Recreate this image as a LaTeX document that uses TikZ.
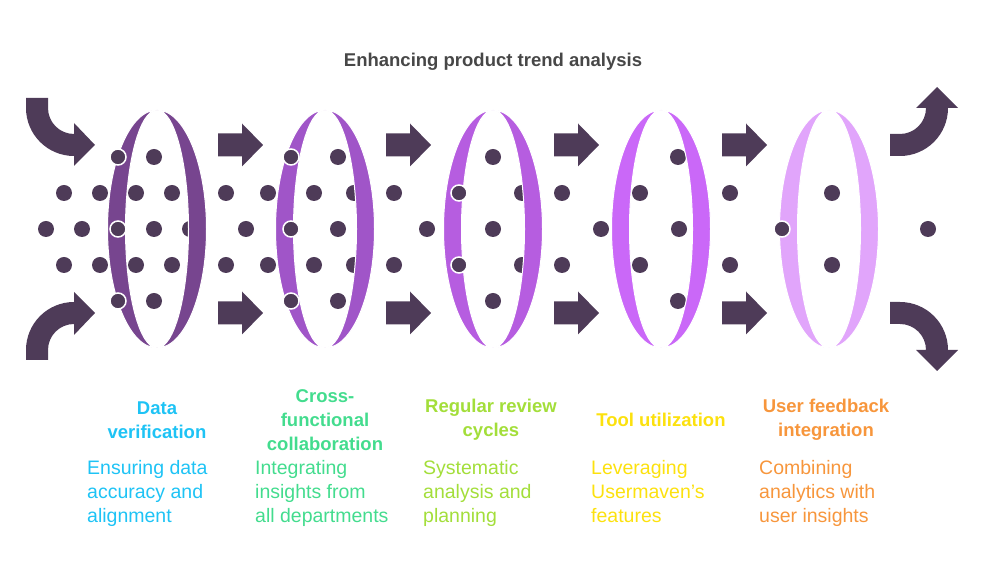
\documentclass[tikz,border=0pt]{standalone}
\usepackage{fontspec}
\setmainfont{Liberation Sans}
\usepackage{tikz}
\usetikzlibrary{positioning}
\definecolor{titlegray}{HTML}{474747}
\definecolor{plum}{HTML}{4E3B58}
\definecolor{ringa}{HTML}{77458F}
\definecolor{ringb}{HTML}{A055C8}
\definecolor{ringc}{HTML}{B65DE0}
\definecolor{ringd}{HTML}{CA68F8}
\definecolor{ringe}{HTML}{E1A5FB}
\definecolor{cblue}{HTML}{1EC3F5}
\definecolor{cgreen}{HTML}{43DC8E}
\definecolor{clime}{HTML}{A3DE3A}
\definecolor{cyellow}{HTML}{FCE10E}
\definecolor{corange}{HTML}{F7963C}
\tikzset{
  spot/.style={fill=plum},
  frontspot/.style={fill=plum,draw=white,line width=1.5pt},
  band/.style={draw=white,line width=1pt},
  heading/.style={font=\fontsize{18.5}{24}\selectfont\bfseries,
    align=center,inner sep=0,anchor=center},
  body/.style={font=\fontsize{19.5}{24}\selectfont,
    align=left,inner sep=0,anchor=north west},
}

\begin{document}
\begin{tikzpicture}[x=1pt,y=1pt]
\useasboundingbox (0,0) rectangle (986,578);
\node (title) at (493,516) [font=\fontsize{18.5}{22}\selectfont\bfseries,text=titlegray] {Enhancing product trend analysis};

% dots behind the rings
\foreach \x in {154,338,493,678} {
  \fill[spot] (\x,421) circle (8); \fill[spot] (\x,277) circle (8);}
\foreach \x in {64,100,136,172,226,268,314,354,394,522,562,640,730,832} {
  \fill[spot] (\x,385) circle (8); \fill[spot] (\x,313) circle (8);}
\foreach \x in {46,82,154,190,246,338,427,493,601,679,928}
  \fill[spot] (\x,349) circle (8);

% rings
\foreach \cx/\col in {157/ringa,325/ringb,493/ringc,661/ringd,829/ringe} {
  \filldraw[band,fill=\col] (\cx,468) arc[start angle=90,end angle=270,x radius=49.5,y radius=119]
    arc[start angle=270,end angle=90,x radius=31.5,y radius=119] -- cycle;
  \filldraw[band,fill=\col] (\cx,468) arc[start angle=90,end angle=-90,x radius=49.5,y radius=119]
    arc[start angle=-90,end angle=90,x radius=31.5,y radius=119] -- cycle;
}

% dots in front
\foreach \x in {118,291} {
  \filldraw[frontspot] (\x,421) circle (8); \filldraw[frontspot] (\x,277) circle (8);}
\filldraw[frontspot] (459,385) circle (8);
\filldraw[frontspot] (459,313) circle (8);
\foreach \x in {118,291,782}
  \filldraw[frontspot] (\x,349) circle (8);

% straight arrows
\foreach \x in {218,386,554,722}
  \foreach \c in {433,265}
    \fill[plum] (\x,\c-11.5) -- ++(24,0) -- ++(0,-10) -- (\x+45,\c) -- (\x+24,\c+21.5)
      -- ++(0,-10) -- (\x,\c+11.5) -- cycle;

% bent arrows in and out
\fill[plum] (26,480) -- (26,470) arc[start angle=180,end angle=270,radius=48]
  -- (74,412) -- (95,433) -- (74,455) -- (74,444) arc[start angle=270,end angle=180,radius=26]
  -- (48,480) -- cycle;
\fill[plum] (26,218) -- (26,228) arc[start angle=180,end angle=90,radius=48]
  -- (74,286) -- (95,265) -- (74,243) -- (74,254) arc[start angle=90,end angle=180,radius=26]
  -- (48,218) -- cycle;
\fill[plum] (890,444) -- (900,444) arc[start angle=270,end angle=360,radius=26]
  -- (916,470) -- (937,491) -- (958,470) -- (948,470) arc[start angle=0,end angle=-90,radius=48]
  -- (890,422) -- cycle;
\fill[plum] (890,254) -- (900,254) arc[start angle=90,end angle=0,radius=26]
  -- (916,228) -- (937,207) -- (958,228) -- (948,228) arc[start angle=0,end angle=90,radius=48]
  -- (890,276) -- cycle;

% labels
\node (head1) at (157,158) [heading,text=cblue] {Data\\verification};
\node (head2) at (325,158) [heading,text=cgreen] {Cross-\\functional\\collaboration};
\node (head3) at (491,158) [heading,text=clime] {Regular review\\cycles};
\node (head4) at (661,158) [heading,text=cyellow] {Tool utilization};
\node (head5) at (826,158) [heading,text=corange] {User feedback\\integration};
\node (body1) at (87,118) [body,text=cblue] {Ensuring data\\accuracy and\\alignment};
\node (body2) at (255,118) [body,text=cgreen] {Integrating\\insights from\\all departments};
\node (body3) at (423,118) [body,text=clime] {Systematic\\analysis and\\planning};
\node (body4) at (591,118) [body,text=cyellow] {Leveraging\\Usermaven's\\features};
\node (body5) at (759,118) [body,text=corange] {Combining\\analytics with\\user insights};
\end{tikzpicture}
\end{document}
